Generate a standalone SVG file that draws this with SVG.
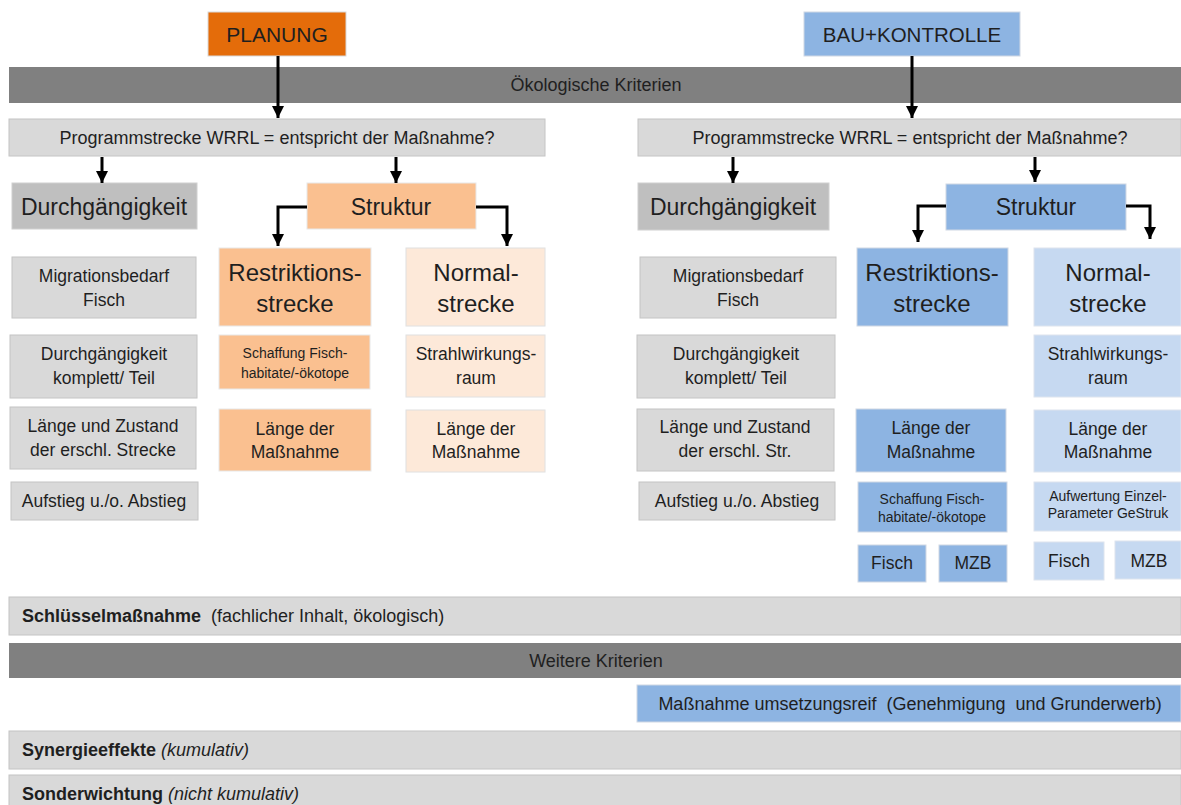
<svg xmlns="http://www.w3.org/2000/svg" width="1181" height="805" viewBox="0 0 1181 805">
<style>
text{font-family:"Liberation Sans",Arial,sans-serif;fill:#1f1f1f;text-anchor:middle}
.g{fill:#D9D9D9;stroke:#c4c4c4;stroke-width:1}
.dg{fill:#BFBFBF;stroke:#d0d0d0;stroke-width:1}
.bar{fill:#808080}
.or{fill:#E46C0A;stroke:#d9d9d9;stroke-width:1}
.lo{fill:#FAC090;stroke:#e8e8e8;stroke-width:1}
.vlo{fill:#FDE9D9;stroke:#e0e0e0;stroke-width:1}
.bl{fill:#8DB4E2;stroke:#d0d8e4;stroke-width:1}
.lb{fill:#C6D9F1;stroke:#dde4ee;stroke-width:1}
.s17{font-size:17.5px}
.s18{font-size:18px}
.s24{font-size:24px}
.s13{font-size:14px}
.l{text-anchor:start}
.conn path{fill:none;stroke:#000;stroke-width:3}
</style>
<defs>
<marker id="ah" markerUnits="userSpaceOnUse" markerWidth="12" markerHeight="12" viewBox="0 0 12 12" refX="12" refY="6" orient="auto">
<path d="M0,0 L12,6 L0,12 Z" fill="#000"/>
</marker>
</defs>

<g id="bar-oeko"><rect class="bar" x="9" y="67" width="1172" height="36"/><text class="s18" x="596" y="91">Ökologische Kriterien</text></g>

<g id="planung"><rect class="or" x="208" y="12" width="138" height="44"/><text x="277" y="42" font-size="21">PLANUNG</text></g>
<g id="bau"><rect class="bl" x="804" y="12" width="216" height="44"/><text x="912" y="42" font-size="20.5">BAU+KONTROLLE</text></g>

<g id="prog-l"><rect class="g" x="9" y="119" width="536" height="37"/><text class="s18" x="277" y="144">Programmstrecke WRRL = entspricht der Maßnahme?</text></g>
<g id="prog-r"><rect class="g" x="638" y="119" width="543" height="37"/><text class="s18" x="910" y="144">Programmstrecke WRRL = entspricht der Maßnahme?</text></g>

<g id="durch-l"><rect class="dg" x="12" y="183" width="185" height="46"/><text x="104" y="215" font-size="23">Durchgängigkeit</text></g>
<g id="struk-l"><rect class="lo" x="307" y="183" width="169" height="46"/><text x="391" y="215" font-size="23">Struktur</text></g>
<g id="durch-r"><rect class="dg" x="638" y="183" width="191" height="47"/><text x="733" y="215" font-size="23">Durchgängigkeit</text></g>
<g id="struk-r"><rect class="bl" x="946" y="184" width="180" height="46"/><text x="1036" y="215" font-size="23">Struktur</text></g>

<g id="migr-l"><rect class="g" x="12" y="257" width="184" height="61"/><text class="s17" x="104" y="282">Migrationsbedarf</text><text class="s17" x="104" y="306">Fisch</text></g>
<g id="komp-l"><rect class="g" x="10" y="335" width="187" height="63"/><text class="s17" x="104" y="360">Durchgängigkeit</text><text class="s17" x="104" y="384">komplett/ Teil</text></g>
<g id="laenge-l"><rect class="g" x="10" y="407" width="186" height="62"/><text class="s17" x="103" y="432">Länge und Zustand</text><text class="s17" x="103" y="456">der erschl. Strecke</text></g>
<g id="auf-l"><rect class="g" x="11" y="482" width="187" height="38"/><text class="s17" x="104" y="507">Aufstieg u./o. Abstieg</text></g>

<g id="restr-l"><rect class="lo" x="219" y="248" width="152" height="78"/><text class="s24" x="295" y="281">Restriktions-</text><text class="s24" x="295" y="312">strecke</text></g>
<g id="norm-l"><rect class="vlo" x="406" y="248" width="139" height="78"/><text class="s24" x="476" y="281">Normal-</text><text class="s24" x="476" y="312">strecke</text></g>
<g id="schaff-l"><rect class="lo" x="219" y="335" width="151" height="54"/><text class="s13" x="295" y="358">Schaffung Fisch-</text><text class="s13" x="295" y="378">habitate/-ökotope</text></g>
<g id="strahl-l"><rect class="vlo" x="406" y="335" width="139" height="62"/><text class="s17" x="476" y="360">Strahlwirkungs-</text><text class="s17" x="476" y="384">raum</text></g>
<g id="lm-or"><rect class="lo" x="219" y="409" width="152" height="62"/><text class="s17" x="295" y="435">Länge der</text><text class="s17" x="295" y="458">Maßnahme</text></g>
<g id="lm-vlo"><rect class="vlo" x="406" y="410" width="139" height="62"/><text class="s17" x="476" y="435">Länge der</text><text class="s17" x="476" y="458">Maßnahme</text></g>

<g id="migr-r"><rect class="g" x="640" y="257" width="196" height="61"/><text class="s17" x="738" y="282">Migrationsbedarf</text><text class="s17" x="738" y="306">Fisch</text></g>
<g id="komp-r"><rect class="g" x="637" y="335" width="198" height="63"/><text class="s17" x="736" y="360">Durchgängigkeit</text><text class="s17" x="736" y="384">komplett/ Teil</text></g>
<g id="laenge-r"><rect class="g" x="637" y="409" width="197" height="62"/><text class="s17" x="735" y="433">Länge und Zustand</text><text class="s17" x="735" y="457">der erschl. Str.</text></g>
<g id="auf-r"><rect class="g" x="639" y="482" width="196" height="38"/><text class="s17" x="737" y="507">Aufstieg u./o. Abstieg</text></g>

<g id="restr-r"><rect class="bl" x="857" y="248" width="151" height="78"/><text class="s24" x="932" y="281">Restriktions-</text><text class="s24" x="932" y="312">strecke</text></g>
<g id="norm-r"><rect class="lb" x="1034" y="248" width="147" height="78"/><text class="s24" x="1108" y="281">Normal-</text><text class="s24" x="1108" y="312">strecke</text></g>
<g id="strahl-r"><rect class="lb" x="1034" y="335" width="147" height="62"/><text class="s17" x="1108" y="360">Strahlwirkungs-</text><text class="s17" x="1108" y="384">raum</text></g>
<g id="lm-bl"><rect class="bl" x="856" y="409" width="150" height="63"/><text class="s17" x="931" y="434">Länge der</text><text class="s17" x="931" y="458">Maßnahme</text></g>
<g id="lm-lb"><rect class="lb" x="1034" y="410" width="147" height="62"/><text class="s17" x="1108" y="435">Länge der</text><text class="s17" x="1108" y="458">Maßnahme</text></g>
<g id="schaff-r"><rect class="bl" x="858" y="482" width="149" height="50"/><text class="s13" x="932" y="504">Schaffung Fisch-</text><text class="s13" x="932" y="522">habitate/-ökotope</text></g>
<g id="aufw-r"><rect class="lb" x="1034" y="482" width="147" height="49"/><text class="s13" x="1108" y="501">Aufwertung Einzel-</text><text class="s13" x="1108" y="518">Parameter GeStruk</text></g>
<g id="fisch-bl"><rect class="bl" x="858" y="545" width="68" height="37"/><text class="s17" x="892" y="569">Fisch</text></g>
<g id="mzb-bl"><rect class="bl" x="939" y="545" width="68" height="37"/><text class="s17" x="973" y="569">MZB</text></g>
<g id="fisch-lb"><rect class="lb" x="1034" y="542" width="70" height="38"/><text class="s17" x="1069" y="567">Fisch</text></g>
<g id="mzb-lb"><rect class="lb" x="1115" y="541" width="66" height="38"/><text class="s17" x="1149" y="567">MZB</text></g>

<g id="bar-schluessel"><rect class="g" x="9" y="597" width="1172" height="38"/><text class="s18 l" x="22" y="622" xml:space="preserve"><tspan font-weight="bold">Schlüsselmaßnahme</tspan>  (fachlicher Inhalt, ökologisch)</text></g>
<g id="bar-weitere"><rect class="bar" x="9" y="643" width="1172" height="35"/><text class="s18" x="596" y="667">Weitere Kriterien</text></g>
<g id="umsetz"><rect class="bl" x="637" y="685" width="544" height="37"/><text class="s18" x="910" y="710" xml:space="preserve">Maßnahme umsetzungsreif  (Genehmigung  und Grunderwerb)</text></g>
<g id="bar-synergie"><rect class="g" x="9" y="731" width="1172" height="38"/><text class="s18 l" x="22" y="756"><tspan font-weight="bold">Synergieeffekte</tspan> <tspan font-style="italic">(kumulativ)</tspan></text></g>
<g id="bar-sonder"><rect class="g" x="9" y="775" width="1172" height="32"/><text class="s18 l" x="22" y="800"><tspan font-weight="bold">Sonderwichtung</tspan> <tspan font-style="italic">(nicht kumulativ)</tspan></text></g>

<g class="conn" id="connectors">
<path d="M278,56 V118" marker-end="url(#ah)"/>
<path d="M912,56 V118" marker-end="url(#ah)"/>
<path d="M102,157 V183" marker-end="url(#ah)"/>
<path d="M396,157 V183" marker-end="url(#ah)"/>
<path d="M733,157 V183" marker-end="url(#ah)"/>
<path d="M1035,157 V182" marker-end="url(#ah)"/>
<path d="M307,207 H278 V246" marker-end="url(#ah)"/>
<path d="M476,207 H507 V246" marker-end="url(#ah)"/>
<path d="M946,206 H918 V242" marker-end="url(#ah)"/>
<path d="M1126,206 H1150 V239" marker-end="url(#ah)"/>
</g>
</svg>
